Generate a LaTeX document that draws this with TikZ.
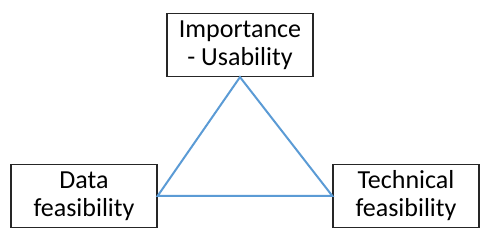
\documentclass[tikz,border=0pt]{standalone}
\usepackage{fontspec}
\setmainfont{Carlito}
\usetikzlibrary{positioning}
\definecolor{triblue}{RGB}{91,155,213}

\begin{document}
\begin{tikzpicture}[x=1pt, y=1pt,
    every node/.style={align=center, font=\fontsize{26}{28}\selectfont},
    box/.style={draw=black!85, line width=1.2pt, minimum width=146pt, minimum height=63pt,
                inner sep=0pt},
    tri/.style={draw=triblue, line width=2pt, line join=miter}
  ]
    \useasboundingbox (0,0) rectangle (491,241);
    \node[box] (imp)  at (240,196) {Importance\\ - Usability};
    \node[box] (data) at (84,45)   {Data\\ feasibility};
    \node[box] (tech) at (406,45)  {Technical\\ feasibility};

    \draw[tri] (imp.south) -- (data.east) -- (tech.west) -- cycle;
  \end{tikzpicture}
\end{document}
